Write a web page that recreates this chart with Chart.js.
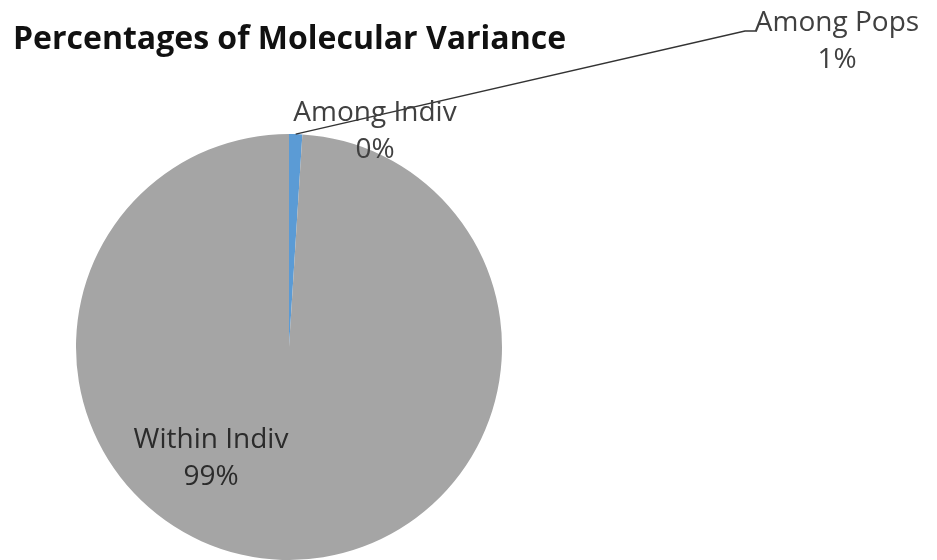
<!DOCTYPE html>
<html>
<head>
<meta charset="utf-8">
<script src="https://cdn.jsdelivr.net/npm/chart.js@4"></script>
<style>
  html, body { margin: 0; padding: 0; background: #fff; }
  #wrap { width: 937px; height: 560px; position: relative; }
</style>
</head>
<body>
<div id="wrap"><canvas id="amovaChart"></canvas></div>
<script>
const chartTitle = "Percentages of Molecular Variance";
const sourceNames = ["Among Pops", "Among Indiv", "Within Indiv"];
const variancePercent = [1, 0, 99];
const sliceColors = ["#5b9bd5", "#ed7d31", "#a5a5a5"];

// where each data label sits (centre of the two-line block), and leader elbow
const labelSpots = [
    { x: 837, y: 41, elbow: { x: 745, y: 31 }, lineEnd: { x: 757, y: 31 } },
    { x: 375, y: 131 },
    { x: 211, y: 458 }
];

const labelFont = "28px 'Open Sans', sans-serif";

const amovaLabels = {
    id: "amovaLabels",
    afterDraw(chart) {
        const ctx = chart.ctx;
        const arcs = chart.getDatasetMeta(0).data;
        ctx.save();

        ctx.fillStyle = "#111";
        ctx.font = "bold 32px 'Open Sans', sans-serif";
        ctx.textAlign = "left";
        ctx.textBaseline = "middle";
        ctx.fillText(chartTitle, 13, 40);

        sourceNames.forEach((name, i) => {
            const spot = labelSpots[i];
            const arc = arcs[i];
            if (spot.elbow) {
                const mid = (arc.startAngle + arc.endAngle) / 2;
                const r = arc.outerRadius;
                ctx.strokeStyle = "#333";
                ctx.lineWidth = 1.4;
                ctx.beginPath();
                ctx.moveTo(arc.x + Math.cos(mid) * r, arc.y + Math.sin(mid) * r);
                ctx.lineTo(spot.elbow.x, spot.elbow.y);
                ctx.lineTo(spot.lineEnd.x, spot.lineEnd.y);
                ctx.stroke();
            }
            ctx.fillStyle = i === 2 ? "#2b2b2b" : "#404040";
            ctx.font = labelFont;
            ctx.textAlign = "center";
            ctx.textBaseline = "middle";
            ctx.fillText(name, spot.x, spot.y - 18);
            ctx.fillText(variancePercent[i] + "%", spot.x, spot.y + 19);
        });
        ctx.restore();
    }
};

new Chart(document.getElementById("amovaChart"), {
    type: "pie",
    data: {
        labels: sourceNames,
        datasets: [{
            data: variancePercent,
            backgroundColor: sliceColors,
            borderWidth: 0
        }]
    },
    options: {
        responsive: true,
        maintainAspectRatio: false,
        animation: false,
        layout: { padding: { left: 76, right: 435, top: 134, bottom: 0 } },
        plugins: {
            legend: { display: false },
            tooltip: { enabled: false }
        }
    },
    plugins: [amovaLabels]
});
</script>
</body>
</html>
